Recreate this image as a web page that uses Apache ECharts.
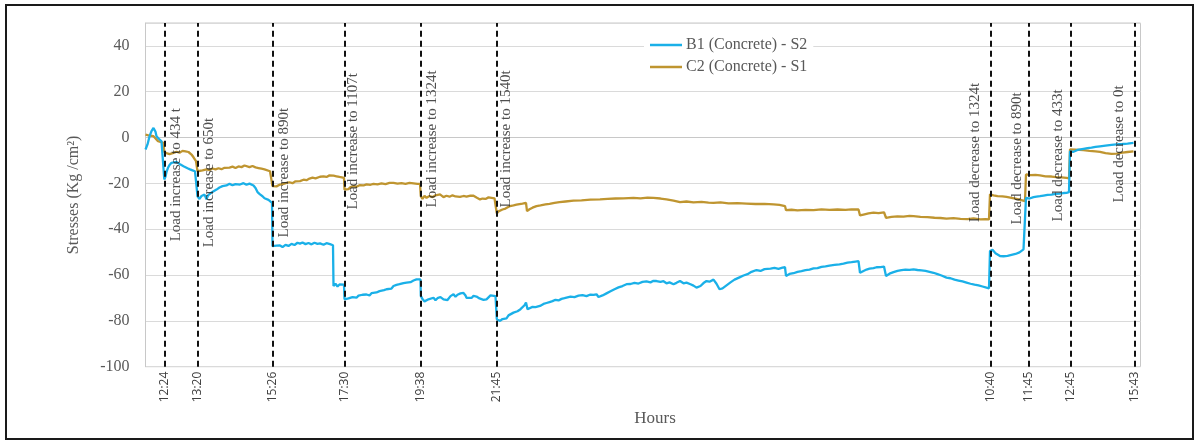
<!DOCTYPE html>
<html>
<head>
<meta charset="utf-8">
<title>Stresses under load steps</title>
<script src="https://cdn.jsdelivr.net/npm/echarts@6/dist/echarts.min.js"></script>
<style>
  html, body { margin: 0; padding: 0; background: #ffffff; }
  #chart { width: 1198px; height: 441px; }
</style>
</head>
<body>
<div id="chart"></div>
<script>
// Load steps: reading number where each step starts, clock time and note
const eventReading = [19, 52, 127, 199, 275, 351, 845, 883, 925, 989];
const eventTime = ['12:24', '13:20', '15:26', '17:30', '19:38', '21:45', '10:40', '11:45', '12:45', '15:43'];
const eventNote = [
  'Load increase to 434 t', 'Load increase to 650t', 'Load increase to 890t',
  'Load increase to 1107t', 'Load increase to 1324t', 'Load increase to 1540t',
  'Load decrease to 1324t', 'Load decrease to 890t', 'Load decrease to 433t', 'Load decrease to 0t'
];

// Stress readings [reading, Kg/cm²]
const b1S2 = [
  [0,-5.2],[2,-3],[4,0.5],[6,2.8],[8,4.2],[9,4.8],[10,2.5],[11,0.6],[12,1.2],[13,-0.4],[14,-1],[16,-1.6],[18,-2],
  [18.8,-18.3],[20,-17],[21,-15],[22.5,-13.2],[24,-12],[26,-11],[28,-10.8],[31,-10.6],[33,-11.2],[35,-11.8],[38,-12.5],
  [40,-12.9],[42,-13.4],[44.5,-13.9],[47,-14.3],[49.5,-14.7],[51.5,-15],
  [52,-25.6],[54,-26.8],[56,-25.5],[57.5,-26],[59,-24.9],[61,-27],[62.5,-25.2],[64.5,-24.8],[66,-24],[68,-23.4],[71,-22.7],
  [74,-21.8],[77,-21.2],[81,-20.9],[84,-20.2],[87,-20.8],[90,-20.3],[94.5,-20.5],[98,-19.9],[101,-20.6],[104,-20.1],
  [108,-20.9],[110,-22],[112,-23.8],[114.5,-24.8],[117,-25.6],[119,-26.5],[121,-26.3],[123,-27.2],[125,-27.8],[126.5,-28.5],
  [127,-47.4],[129,-47.9],[131,-47.2],[134.5,-47.1],[137,-47.8],[140,-46.8],[143,-47.3],[146,-46.4],[149,-46.9],[152,-45.9],
  [154.5,-46.3],[157,-45.8],[160,-46.5],[163,-46],[166,-46.6],[169,-45.9],[172,-46.4],[174.5,-46.2],[178,-46.8],[181,-46.1],
  [184.5,-46.5],[187.5,-47],
  [188,-64.8],[190,-63.8],[192,-65],[194,-64.1],[196,-64.6],[198.5,-64.2],
  [199,-70.6],[201,-71.2],[203,-70.2],[205,-71],[207,-69.6],[209,-70.4],[211,-69.9],[213,-69],[215,-69.8],[217,-68.6],
  [219,-69.4],[221,-68.5],[224,-68.9],[226,-67.9],[228,-68.4],[231,-67.6],[234,-67],[236,-67.8],[238.5,-66.6],[241,-66.2],
  [243,-65.6],[246,-65.9],[248,-64.8],[251,-64.3],[254,-64],[256,-64.6],[258,-63.5],[261,-63.3],[263,-62.6],[265,-63.1],
  [268,-62.4],[271,-61.9],[273,-61.6],[275,-61.9],
  [275.3,-69.1],[277,-70.5],[279,-71.5],[281,-72],[283,-70.6],[285,-70.2],[288,-69.9],[290,-71],[292,-70.1],[295,-69.6],
  [298,-70.6],[300,-69.8],[302,-70.9],[305,-69.2],[308,-68.4],[310,-69.5],[312,-68.6],[315,-68],[318,-67.8],[320,-68.9],
  [321,-69.9],[323,-69.2],[326,-70],[328,-69.1],[331,-69.4],[334,-70.2],[336,-69.5],[338,-70.8],[341,-70.6],[343,-69.8],
  [345,-68.9],[347,-68.4],[350,-69.2],
  [351.3,-79.3],[353,-79.6],[354.5,-80],[357,-79.2],[359,-78.4],[361,-78.9],[363,-77.6],[365,-77.2],[368,-76.4],[370,-76.9],
  [372,-75.8],[375,-74.9],[377,-74.3],[379,-73.2],[380.5,-72],[382,-74.9],[384,-74.4],[387,-73.9],[390,-74],[392,-73.4],
  [394.5,-73.5],[398,-72.6],[401,-72.2],[404,-71.8],[407,-71.4],[410,-70.8],[413,-71.1],[416,-70.4],[419,-70.1],[421,-69.9],
  [425,-69.4],[429,-69.6],[433,-69],[437,-68.8],[441,-69.2],[445,-68.5],[448,-68.7],[451,-68.4],[453,-69.6],[454.5,-70.3],
  [457,-68.9],[461,-68],[465,-67.1],[469,-66.2],[473,-65.4],[477,-64.8],[481,-64],[485,-63.9],[489,-63.4],[493,-63.7],
  [497,-63],[501,-62.8],[505,-63.2],[508,-62.5],[511,-62.6],[515,-63],[518,-62.7],[521,-63.6],[524,-63.2],[528,-64],
  [531,-63.4],[534.5,-62.6],[538,-63.6],[541,-63.3],[545,-64],[548,-64.6],[551,-65.5],[553,-66.2],[555,-64.8],[558,-63.5],
  [561,-62.6],[564,-62.9],[568,-62],[571,-63.8],[574,-66.2],[577,-65.8],[581,-64.5],[585,-63.2],[589,-62],[594,-61],
  [598,-60.2],[602,-59.6],[606,-58.6],[611,-57.8],[615,-58.2],[619,-57.4],[621,-57.8],[625,-57.2],[629,-56.9],[633,-57.3],
  [637,-56.8],[639.5,-56.6],[640.5,-60.4],[644,-59.5],[648,-59.2],[652,-58.6],[656,-58.3],[660,-57.9],[664,-57.6],[668,-57.1],
  [672,-57],[676,-56.4],[680,-56.2],[684,-55.9],[689,-55.6],[694,-55.3],[698,-55],[702,-54.6],[706,-54.4],[710,-54.1],
  [713,-53.9],[714.5,-59],[718,-58.2],[721,-57.6],[724,-57.2],[728,-57],[731,-56.6],[735,-56.5],[738.5,-56.3],[740.5,-60.4],
  [744,-59.4],[748,-58.7],[752,-58.2],[756,-57.9],[760,-57.6],[764,-57.7],[768,-57.5],[772,-57.8],[776,-58],[780,-58.2],
  [784,-58.6],[788,-59],[792,-59.6],[796,-60.2],[801,-61.1],[805,-61.4],[809,-62],[813,-62.4],[817,-62.8],[821,-63.3],
  [825,-63.8],[829,-64.2],[833,-64.5],[837,-65],[841,-65.5],[843.5,-65.8],
  [844.5,-49.5],[847,-49],[850,-50.5],[854.5,-51.7],[858,-51.8],[862,-51.6],[866,-51.2],[870,-50.8],[874,-50.1],[878,-48.8],[879.5,-48.2],
  [880.5,-26.3],[884,-26.6],[888,-26],[891,-25.8],[894.5,-25.6],[898,-25.3],[902,-25],[906,-24.9],[910,-24.6],[914,-24.5],
  [918,-24.2],[921,-24.1],[923.5,-23.8],
  [924.5,-6],[928,-6.2],[932,-5.4],[938,-4.9],[942,-4.6],[946,-4.4],[950,-4.1],[954.5,-3.8],[960,-3.5],[966,-3.2],
  [971,-3],[977,-2.8],[982,-2.6],[988,-2.3]
];

const c2S1 = [
  [0,1.3],[3,1],[5,0.4],[8,0.6],[10,0],[12.5,-1.6],[15,-1.9],[18,-2.3],
  [18.8,-6.4],[21,-6.8],[24,-7.2],[26,-6.5],[28,-6.7],[31,-6.2],[34,-6.6],[37,-5.8],[40,-6],[41,-5.6],[43,-6.3],[46,-7.4],
  [48,-8.6],[50.5,-10.3],
  [52,-14.7],[54,-15.1],[57,-14.3],[59,-14.6],[61,-13.9],[64,-14.2],[67,-13.5],[70,-13.9],[73,-13.4],[76,-13.8],[79,-13.2],
  [81,-13.7],[84,-13.1],[87,-12.7],[90,-13.3],[93,-12.6],[96,-12.9],[99,-12.2],[101,-12.5],[104,-12.9],[107,-12.4],[110,-13],
  [113,-13.3],[116,-13.6],[119,-13.9],[121,-13.7],[124.5,-14.7],[126.5,-15.2],
  [127,-21.2],[129,-20.8],[131,-21.3],[134.5,-20.5],[138,-20.2],[141,-19.8],[144,-19.5],[147,-19.9],[150,-19.1],[154.5,-19],
  [158,-18.4],[161,-18.6],[164,-17.9],[167,-17.5],[170,-17.8],[174.5,-17.1],[178,-16.9],[181,-17.2],[184,-16.5],[188,-16.6],
  [191,-16.9],[194,-17.2],[196,-17.4],[198.5,-17.6],
  [199,-22.7],[201,-22],[203,-22.5],[205,-21.6],[208,-21.2],[211,-21.5],[214,-20.8],[218,-20.9],[221,-20.4],[225,-20.6],
  [228,-20.2],[232,-20.4],[236,-20],[240,-20.3],[244,-19.8],[248,-19.8],[252,-20.1],[256,-19.9],[260,-20.2],[264,-19.8],
  [268,-20],[272,-20.2],[274.5,-20.2],
  [275.3,-25.6],[277,-26.8],[279,-25.4],[281,-26.3],[284,-25.5],[287,-26],[290,-25.2],[292,-24.6],[294.5,-24.8],[296,-25.6],
  [298,-26],[301,-25.4],[304,-25.8],[307,-25.2],[310,-25.7],[314.5,-25.9],[318,-25.5],[321,-25.8],[325,-25.3],[328,-25.4],
  [331,-26.2],[334.5,-27],[337,-26.6],[340,-26.8],[343,-26.1],[346,-26.3],[349,-26.5],[350.5,-26.6],
  [351.3,-33.1],[353,-32.2],[354.5,-32.5],[357,-31.4],[360,-31],[362,-30.4],[364.5,-29.9],[368,-29.6],[371,-29.3],[374,-29],
  [377,-28.8],[380.5,-28.5],[381.5,-32.1],[384,-31.3],[387,-30.6],[391,-29.9],[395,-29.6],[400,-29.2],[404,-28.9],[409,-28.5],
  [414,-28.2],[420,-27.9],[428,-27.5],[436,-27.4],[445,-27.1],[454.5,-27],[462,-26.8],[470,-26.6],[478,-26.5],[488,-26.3],
  [495,-26.5],[502,-26.2],[508,-26.3],[515,-26.6],[521,-27],[528,-27.5],[534.5,-28.2],[541,-27.9],[548,-28.3],[556,-28.1],
  [563,-28.4],[568,-28.5],[575,-28.3],[583,-28.7],[592,-28.6],[601,-28.8],[610,-29],[619,-28.9],[628,-29.2],[634,-29.4],
  [639.5,-29.9],[640.5,-31.7],[646,-31.5],[652,-31.8],[660,-31.6],[668,-31.7],[676,-31.3],[684,-31.6],[692,-31.4],[700,-31.6],
  [706,-31.3],[713,-31.4],[714.5,-34],[718,-33.6],[723,-33.1],[728,-32.8],[733,-33],[738.5,-32.6],[740.5,-35],[746,-34.6],
  [752,-34.4],[758,-34.5],[764,-34.2],[768,-34.3],[775,-34.6],[782,-34.7],[789,-35],[795,-35.1],[801,-35.4],[808,-35.2],
  [815,-35.5],[822,-35.6],[828,-35.3],[835,-35.7],[840,-35.6],[843.5,-35.7],
  [844.5,-24.8],[848,-25.2],[852,-25.6],[857,-25.7],[861,-25.9],[866,-26.3],[871,-26.8],[875,-27.2],[879.5,-27.7],
  [880.5,-16.1],[885,-16.4],[890,-16.3],[894.5,-16.5],[900,-16.9],[906,-17],[911,-17.3],[916,-17.4],[921,-17.6],[923.5,-17.8],
  [924.5,-5.2],[930,-5.3],[938,-5.5],[944,-5.8],[950,-6],[954.5,-6.2],[960,-6.8],[966,-7.1],[971,-7],[977,-6.6],
  [982,-6.3],[988,-6]
];

const yTicks = { min: -100, max: 50, step: 20 };
const seriesNames = ['B1 (Concrete) - S2', 'C2 (Concrete) - S1'];

// Note placement: sideways shift from its step line (readings) and the stress level where the text starts
const noteShift = [12, 12, 12, 9, 12, 10, -15, -11, -12, -15];
const noteFoot = [-45.3, -47.9, -43.6, -31.4, -30.5, -30.5, -37, -37.9, -36.6, -28.3];

const SERIF = '"Liberation Serif", "Times New Roman", serif';
const GREY = '#595959';

const chart = echarts.init(document.getElementById('chart'), null, { renderer: 'canvas' });

const timeByReading = {};
eventReading.forEach((r, i) => { timeByReading[r] = eventTime[i]; });

chart.setOption({
  animation: false,
  backgroundColor: '#ffffff',
  graphic: [{
    type: 'rect',
    shape: { x: 6, y: 5, width: 1187, height: 434 },
    style: { fill: 'none', stroke: '#1a1a1a', lineWidth: 2 },
    silent: true
  }],
  grid: {
    left: 145.5, right: 57.5, top: 23, bottom: 74.3,
    show: true, borderColor: '#c8c8c8', borderWidth: 1, backgroundColor: 'transparent'
  },
  legend: {
    data: seriesNames,
    orient: 'vertical',
    left: 644, top: 35,
    itemWidth: 32, itemHeight: 2.5, itemGap: 6,
    icon: 'rect',
    backgroundColor: '#ffffff',
    padding: [2, 6, 2, 6],
    textStyle: { fontFamily: SERIF, fontSize: 16, color: GREY, padding: [0, 0, 0, -1] }
  },
  xAxis: {
    type: 'value',
    min: 0, max: 995,
    name: 'Hours',
    nameLocation: 'middle',
    nameGap: 42,
    nameTextStyle: { fontFamily: SERIF, fontSize: 17, color: GREY, padding: [0, 0, 0, 24] },
    axisLine: { show: true, lineStyle: { color: '#c8c8c8', width: 1 } },
    axisTick: { show: false },
    splitLine: { show: false },
    axisLabel: {
      customValues: eventReading,
      rotate: 90,
      margin: 5,
      fontFamily: '"Open Sans", "Liberation Sans", sans-serif',
      fontSize: 12,
      color: '#404040',
      formatter: v => timeByReading[v] || ''
    }
  },
  yAxis: {
    type: 'value',
    min: yTicks.min, max: yTicks.max, interval: yTicks.step,
    name: 'Stresses (Kg /cm²)',
    nameLocation: 'middle',
    nameGap: 64,
    nameTextStyle: { fontFamily: SERIF, fontSize: 16, color: GREY },
    axisLine: { show: true, lineStyle: { color: '#c8c8c8', width: 1 } },
    axisTick: { show: false },
    splitLine: { show: true, lineStyle: { color: '#dadada', width: 1 } },
    axisLabel: {
      showMaxLabel: false,
      margin: 16,
      fontFamily: SERIF, fontSize: 16, color: GREY
    }
  },
  series: [
    {
      name: seriesNames[0],
      type: 'line',
      data: b1S2,
      showSymbol: false,
      symbol: 'none',
      color: '#1ab0e8',
      lineStyle: { color: '#1ab0e8', width: 2.3 },
      z: 3
    },
    {
      name: seriesNames[1],
      type: 'line',
      data: c2S1,
      showSymbol: false,
      symbol: 'none',
      color: '#bf9530',
      lineStyle: { color: '#bf9530', width: 2.3 },
      z: 2,
      markLine: {
        silent: true,
        symbol: 'none',
        label: { show: false },
        lineStyle: { color: '#111111', width: 2, type: [6, 4] },
        data: eventReading.map(r => ({ xAxis: r }))
      }
    },
    {
      name: 'notes',
      type: 'scatter',
      symbolSize: 0,
      silent: true,
      z: 5,
      data: eventReading.map((r, i) => ({ value: [r + noteShift[i], noteFoot[i]], note: eventNote[i] })),
      label: {
        show: true,
        position: 'inside',
        rotate: 90,
        align: 'left',
        verticalAlign: 'middle',
        fontFamily: SERIF,
        fontSize: 15,
        color: '#222222',
        formatter: p => p.data.note
      }
    }
  ]
});
</script>
</body>
</html>
